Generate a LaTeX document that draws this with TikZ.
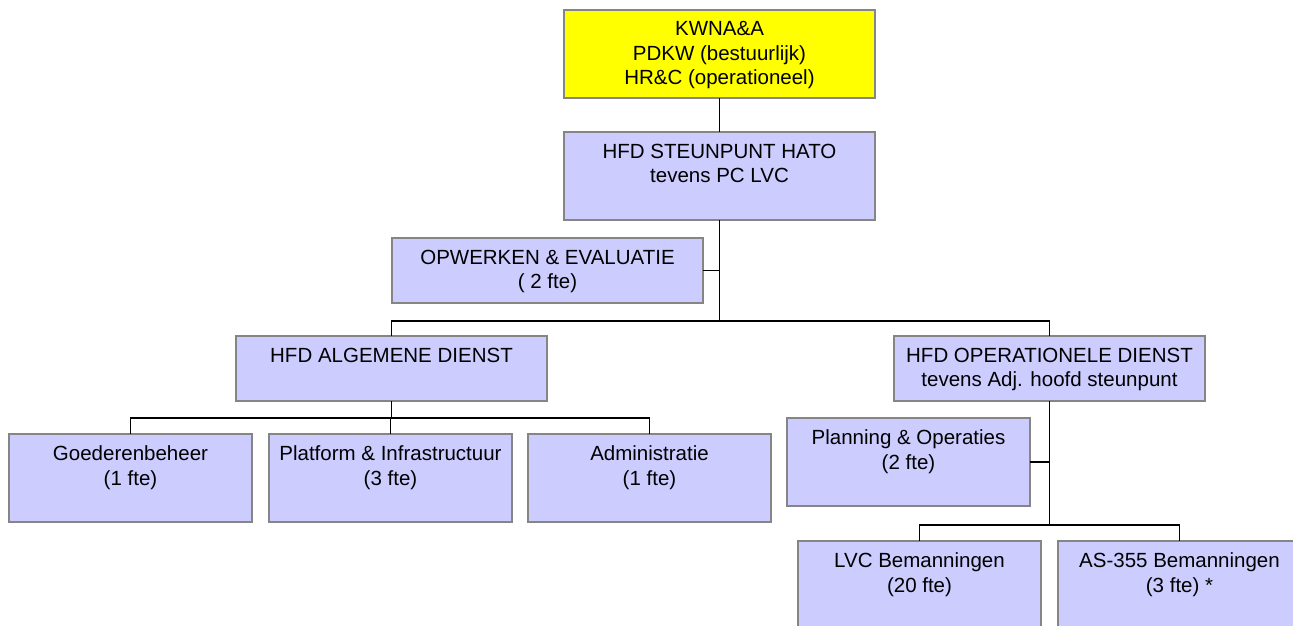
\documentclass[tikz,border=0pt]{standalone}
\usepackage{fontspec}
\setmainfont{Liberation Sans}
\definecolor{boxfill}{HTML}{CCCCFF}
\definecolor{topfill}{HTML}{FFFF00}
\definecolor{boxline}{HTML}{858585}
\begin{document}
\begin{tikzpicture}[x=1pt,y=-1pt,
 box/.style={draw=boxline, fill=boxfill, line width=1.5pt, inner sep=0pt, outer sep=0pt, anchor=north west, minimum width=311pt, minimum height=65pt},
 tall/.style={minimum height=88pt},
 narrow/.style={minimum width=243pt},
 txt/.style={anchor=north, inner sep=0pt, align=center, font=\fontsize{20.5}{24.5}\selectfont, yshift=-11.5pt},
 conn/.style={draw=black, line width=1.4pt}]
\useasboundingbox (0,0) rectangle (1293,625);
% boxes
\node[box,tall,fill=topfill] (kw) at (564,10) {};
\node[box,tall] (st) at (564,132) {};
\node[box] (ow) at (392,238) {};
\node[box] (al) at (236,336) {};
\node[box] (op) at (894,336) {};
\node[box,tall,narrow] (pn) at (787,418) {};
\node[box,tall,narrow] (go) at (9,434) {};
\node[box,tall,narrow] (pf) at (269,434) {};
\node[box,tall,narrow] (ad) at (528,434) {};
\node[box,tall,narrow] (lv) at (798,541) {};
\node[box,tall,narrow] (as) at (1058,541) {};
% texts
\node[txt] (kw-t) at (kw.north) {KWNA\&A\\PDKW (bestuurlijk)\\HR\&C (operationeel)};
\node[txt] (st-t) at (st.north) {HFD STEUNPUNT HATO\\tevens PC LVC};
\node[txt] (ow-t) at (ow.north) {OPWERKEN \& EVALUATIE\\( 2 fte)};
\node[txt] (al-t) at (al.north) {HFD ALGEMENE DIENST};
\node[txt] (op-t) at (op.north) {HFD OPERATIONELE DIENST\\tevens Adj. hoofd steunpunt};
\node[txt] (pn-t) at (pn.north) {Planning \& Operaties\\(2 fte)};
\node[txt] (go-t) at (go.north) {Goederenbeheer\\(1 fte)};
\node[txt] (pf-t) at (pf.north) {Platform \& Infrastructuur\\(3 fte)};
\node[txt] (ad-t) at (ad.north) {Administratie\\(1 fte)};
\node[txt] (lv-t) at (lv.north) {LVC Bemanningen\\(20 fte)};
\node[txt] (as-t) at (as.north) {AS-355 Bemanningen\\(3 fte) *};
% connectors
\coordinate (j1) at (st.south |- 0,321);
\coordinate (j2) at (al.south |- 0,418);
\coordinate (j3) at (op.south |- 0,525);
\draw[conn] (kw.south) -- (st.north);
\draw[conn] (st.south) -- (j1);
\draw[conn] (ow.east) -- (ow.east -| st.south);
\draw[conn] (al.north) |- (j1) -| (op.north);
\draw[conn] (al.south) -- (j2);
\draw[conn] (go.north) |- (j2) -| (ad.north);
\draw[conn] (pf.north) -- (pf.north |- j2);
\draw[conn] (op.south) -- (j3);
\draw[conn] (pn.east) -- (pn.east -| op.south);
\draw[conn] (lv.north) |- (j3) -| (as.north);
\end{tikzpicture}
\end{document}
